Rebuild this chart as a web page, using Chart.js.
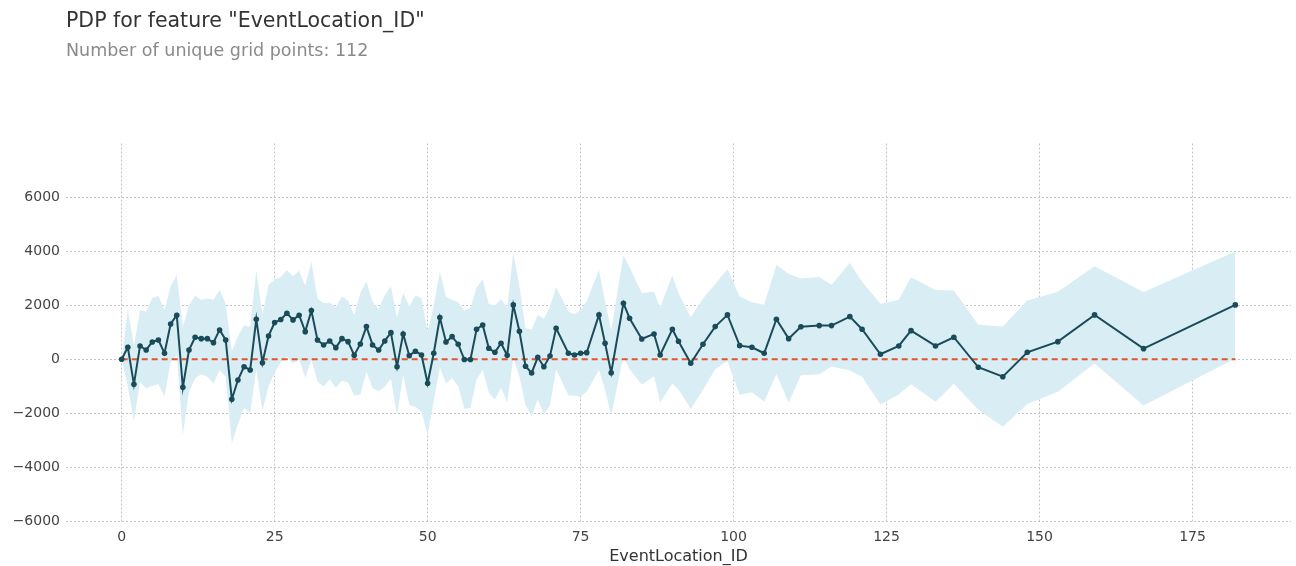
<!DOCTYPE html>
<html>
<head>
<meta charset="utf-8">
<script src="https://cdn.jsdelivr.net/npm/chart.js@4.4.1/dist/chart.umd.min.js"></script>
<style>
  html, body { margin: 0; padding: 0; background: #ffffff; }
  #wrap { position: relative; width: 1296px; height: 566px; overflow: hidden; }
  #pdp { position: absolute; left: 0; top: 0; }
  .hdr { position: absolute; left: 66px; font-family: "DejaVu Sans", sans-serif; white-space: nowrap; }
  #title { top: 8px; font-size: 20.5px; color: #333333; }
  #subtitle { top: 40px; font-size: 17.5px; color: #8a8a8a; }
</style>
</head>
<body>
<div id="wrap">
  <canvas id="pdp" width="1296" height="566"></canvas>
  <div id="title" class="hdr">PDP for feature "EventLocation_ID"</div>
  <div id="subtitle" class="hdr">Number of unique grid points: 112</div>
</div>
<script>
// Grid values of EventLocation_ID where the partial dependence was evaluated
const gridPoints = [
  0, 1, 2, 3, 4, 5, 6, 7, 8, 9, 10, 11, 12, 13, 14, 15, 16, 17, 18, 19,
  20, 21, 22, 23, 24, 25, 26, 27, 28, 29, 30, 31, 32, 33, 34, 35, 36, 37, 38, 39,
  40, 41, 42, 43, 44, 45, 46, 47, 48, 49, 50, 51, 52, 53, 54, 55, 56, 57, 58, 59,
  60, 61, 62, 63, 64, 65, 66, 67, 68, 69, 70, 71, 73, 74, 75, 76, 78, 79, 80, 82,
  83, 85, 87, 88, 90, 91, 93, 95, 97, 99, 101, 103, 105, 107, 109, 111, 114, 116, 119, 121,
  124, 127, 129, 133, 136, 140, 144, 148, 153, 159, 167, 182
];

// Average (centered) partial dependence at each grid point
const pdpValues = [
  0, 444, -926, 492, 344, 640, 715, 222, 1307, 1630, -1037, 344, 815, 763, 763, 615, 1085, 715, -1481, -767,
  -274, -396, 1481, -126, 863, 1356, 1470, 1704, 1456, 1630, 1022, 1800, 715, 530, 678, 430, 763, 652, 148, 567,
  1208, 530, 344, 678, 985, -274, 937, 133, 296, 159, -889, 222, 1541, 640, 837, 556, -10, -10, 1111, 1270,
  407, 259, 593, 148, 2011, 1037, -259, -507, 74, -274, 122, 1148, 222, 159, 222, 244, 1641, 593, -496, 2074,
  1518, 752, 937, 159, 1111, 667, -148, 556, 1208, 1641, 504, 444, 222, 1481, 763, 1200, 1245, 1245, 1578, 1111,
  185, 493, 1059, 493, 815, -296, -644, 259, 652, 1641, 393, 2011
];

// Upper edge of the +/- one standard deviation band
const bandUpper = [
  0, 1850, 500, 1810, 1770, 2270, 2350, 1820, 2700, 3120, 1200, 2000, 2350, 2200, 2250, 2200, 2560, 2050, 300, 850,
  1250, 1200, 3300, 1650, 2750, 2950, 3040, 3300, 3070, 3270, 2720, 3610, 2255, 2070, 2100, 1910, 2320, 2160, 1630, 2450,
  2880, 2130, 1850, 2380, 2690, 1540, 2460, 1950, 2370, 2260, 1020, 1980, 3250, 2300, 2200, 2100, 1810, 1900, 2650, 2950,
  2040, 2000, 2230, 1900, 3950, 2700, 1150, 1100, 1640, 1500, 1950, 2670, 1770, 1670, 1820, 2150, 3300, 2150, 1075, 3850,
  3400, 2450, 2500, 1910, 3100, 2450, 1550, 2250, 2780, 3340, 2320, 2110, 2020, 3500, 3150, 2990, 3045, 2760, 3560, 2870,
  2050, 2200, 3030, 2560, 2540, 1280, 1210, 2170, 2500, 3440, 2490, 3990
];

// Lower edge of the +/- one standard deviation band
const bandLower = [
  0, -1000, -2300, -830, -1080, -990, -920, -1380, -90, 140, -2800, -1200, -700, -550, -650, -900, -400, -650, -3100, -2400,
  -1800, -2000, -350, -1900, -1000, -500, -100, 100, -160, -10, -680, -10, -825, -1010, -740, -1050, -790, -860, -1330, -1310,
  -460, -1070, -1170, -1020, -720, -2090, -580, -1690, -1770, -1940, -2800, -1540, -300, -900, -700, -1000, -1830, -1800, -750, -400,
  -1230, -1500, -1050, -1600, 50, -650, -1700, -2100, -1490, -2050, -1700, -380, -1330, -1350, -1380, -1200, -400, -1150, -2070, 100,
  -370, -940, -630, -1600, -900, -1120, -1840, -1140, -370, -60, -1320, -1220, -1570, -550, -1600, -590, -555, -270, -420, -650,
  -1670, -1300, -920, -1570, -910, -1870, -2500, -1650, -1200, -160, -1710, 30
];

// Axis ticks
const xTicks = [0, 25, 50, 75, 100, 125, 150, 175];
const yTicks = [-6000, -4000, -2000, 0, 2000, 4000, 6000];

const toPoints = (xs, ys) => xs.map((x, i) => ({ x: x, y: ys[i] }));
const xFirst = gridPoints[0];
const xLast = gridPoints[gridPoints.length - 1];

const tickFont = { family: 'DejaVu Sans', size: 14 };
const gridStyle = { color: '#c4c4c4', lineWidth: 1, drawTicks: false };
const dottedBorder = { display: false, dash: [2, 2] };

new Chart(document.getElementById('pdp'), {
  type: 'line',
  data: {
    datasets: [
      {
        label: 'pdp',
        data: toPoints(gridPoints, pdpValues),
        borderColor: '#1a4b59',
        backgroundColor: '#1a4b59',
        borderWidth: 2,
        pointRadius: 2.8,
        pointBorderWidth: 0,
        tension: 0,
        fill: false,
        order: 0
      },
      {
        label: 'zero',
        data: [{ x: xFirst, y: 0 }, { x: xLast, y: 0 }],
        borderColor: '#e4532f',
        borderWidth: 1.8,
        borderDash: [6, 4],
        pointRadius: 0,
        fill: false,
        order: 1
      },
      {
        label: 'upper',
        data: toPoints(gridPoints, bandUpper),
        borderWidth: 0,
        borderColor: 'rgba(0,0,0,0)',
        backgroundColor: '#d9eef4',
        pointRadius: 0,
        tension: 0,
        fill: '+1',
        order: 2
      },
      {
        label: 'lower',
        data: toPoints(gridPoints, bandLower),
        borderWidth: 0,
        borderColor: 'rgba(0,0,0,0)',
        pointRadius: 0,
        tension: 0,
        fill: false,
        order: 3
      }
    ]
  },
  options: {
    responsive: false,
    animation: false,
    devicePixelRatio: 1,
    layout: { padding: { top: 143.5, right: 5, bottom: 0, left: 0 } },
    plugins: {
      legend: { display: false },
      tooltip: { enabled: false },
      title: { display: false }
    },
    scales: {
      x: {
        type: 'linear',
        min: -9.1,
        max: 191.1,
        border: dottedBorder,
        grid: gridStyle,
        afterBuildTicks: (axis) => { axis.ticks = xTicks.map(v => ({ value: v })); },
        afterFit: (axis) => { axis.height = 44.5; },
        ticks: {
          font: tickFont,
          color: '#444444',
          padding: 7,
          maxRotation: 0,
          callback: (v) => String(v)
        },
        title: {
          display: true,
          text: 'EventLocation_ID',
          font: { family: 'DejaVu Sans', size: 16 },
          color: '#333333',
          padding: { top: 0, bottom: 0 }
        }
      },
      y: {
        type: 'linear',
        min: -6000,
        max: 7980,
        border: dottedBorder,
        grid: gridStyle,
        afterBuildTicks: (axis) => { axis.ticks = yTicks.map(v => ({ value: v })); },
        afterFit: (axis) => { axis.width = 66; },
        ticks: {
          font: tickFont,
          color: '#444444',
          padding: 6,
          callback: (v) => String(v).replace('-', '\u2212')
        }
      }
    }
  }
});
</script>
</body>
</html>
